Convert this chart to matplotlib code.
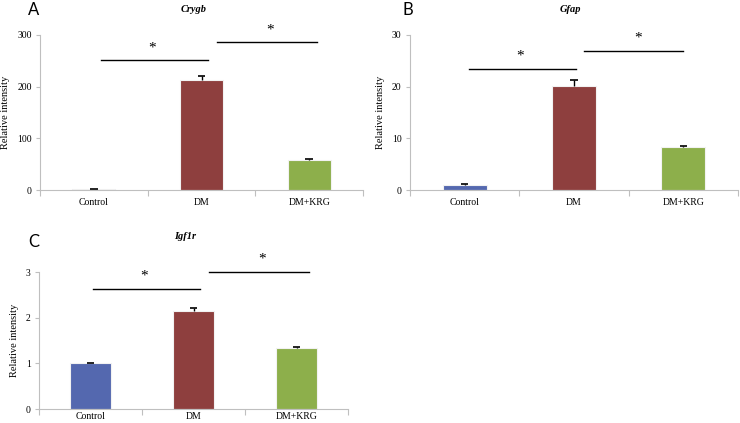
import numpy as np
import matplotlib.pyplot as plt

groups = ["Control", "DM", "DM+KRG"]
colors = ["#5468AF", "#8E3F3E", "#8DAF4B"]

crygb_vals = [1.0, 212, 59]
crygb_err = [0.5, 8, 1]
gfap_vals = [1.0, 20.2, 8.4]
gfap_err = [0.1, 1.1, 0.15]
igf1r_vals = [1.0, 2.15, 1.34]
igf1r_err = [0.01, 0.06, 0.02]

# significance bars: (x0, x1, y, star x)
crygb_sig = [(0.07, 1.06, 251, 0.54), (1.14, 2.07, 286, 1.64)]
gfap_sig = [(0.04, 1.02, 23.5, 0.51), (1.09, 2.0, 26.9, 1.59)]
igf1r_sig = [(0.02, 1.06, 2.63, 0.52), (1.15, 2.12, 3.01, 1.67)]

W, H = 740, 423
fig = plt.figure(figsize=(W / 100, H / 100), dpi=100)

serif = "Liberation Serif"
spine_col = "#BFBFBF"


def px_axes(left, right, top, bottom):
    return fig.add_axes([left / W, 1 - bottom / H, (right - left) / W, (bottom - top) / H])


def draw_panel(ax, vals, errs, ymax, ystep, sig, xpad):
    x = np.arange(len(groups))
    vals = np.array(vals)
    errs = np.array(errs)
    ax.bar(x, vals, width=0.4, color=colors, edgecolor="#f2f2f2", linewidth=0.8, zorder=2)
    # upper error bars only
    ax.vlines(x, vals, vals + errs, color="black", lw=1, zorder=3)
    ax.hlines(vals + errs, x - 0.035, x + 0.035, color="black", lw=1.2, zorder=3)
    ax.set_xlim(-0.5, 2.5)
    ax.set_ylim(0, ymax)
    ax.set_yticks(np.arange(0, ymax + ystep / 2, ystep))
    ax.set_xticks([-0.5, 0.5, 1.5, 2.5])
    ax.set_xticklabels([])
    ax.set_xticks(x, minor=True)
    ax.set_xticklabels(groups, minor=True, fontfamily=serif, fontsize=7)
    ax.tick_params(axis="x", which="minor", length=0, pad=xpad)
    ax.tick_params(axis="x", which="major", length=4, color=spine_col, width=0.8)
    ax.tick_params(axis="y", length=3, color=spine_col, width=0.8, labelsize=7, pad=3)
    for lab in ax.get_yticklabels():
        lab.set_fontfamily(serif)
    for s in ["top", "right"]:
        ax.spines[s].set_visible(False)
    for s in ["left", "bottom"]:
        ax.spines[s].set_color(spine_col)
        ax.spines[s].set_linewidth(0.8)
    ax.set_ylabel("Relative intensity", fontfamily=serif, fontsize=7.5, labelpad=5)
    for x0, x1, y, xs in sig:
        ax.plot([x0, x1], [y, y], color="black", lw=1, clip_on=False)
        ax.annotate("*", xy=(xs, y), xytext=(0, 9), textcoords="offset points",
                    ha="center", va="center", fontfamily=serif, fontsize=11,
                    annotation_clip=False)


axA = px_axes(40, 363, 35, 190)
draw_panel(axA, crygb_vals, crygb_err, 300, 100, crygb_sig, 6)
axB = px_axes(410, 738, 35, 190)
draw_panel(axB, gfap_vals, gfap_err, 30, 10, gfap_sig, 6)
axC = px_axes(39, 348, 272, 409)
draw_panel(axC, igf1r_vals, igf1r_err, 3, 1, igf1r_sig, 2)

# panel letters and gene names
for letter, lx, ly in [("A", 34, 10), ("B", 408, 10), ("C", 34, 242)]:
    fig.text(lx / W, 1 - ly / H, letter, ha="center", va="center",
             fontfamily="Lato", fontsize=12)
for gene, gx, gy in [("Crygb", 194, 10), ("Gfap", 570, 10), ("Igf1r", 185, 236)]:
    fig.text(gx / W, 1 - gy / H, gene, ha="center", va="center",
             fontfamily=serif, fontsize=7.5, fontweight="bold", fontstyle="italic")

fig.savefig("out.png", dpi=100)
